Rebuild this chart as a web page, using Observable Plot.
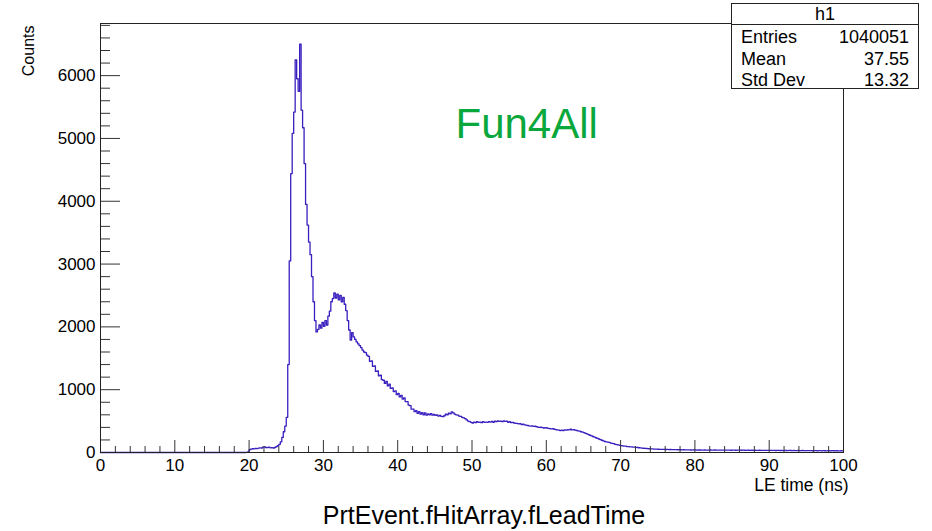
<!DOCTYPE html>
<html><head><meta charset="utf-8">
<script src="https://cdn.jsdelivr.net/npm/d3@7"></script>
<script src="https://cdn.jsdelivr.net/npm/@observablehq/plot@0.6"></script>
<style>
body{margin:0;background:#fff;}
#wrap{position:relative;width:932px;height:531px;font-family:"Liberation Sans",Arial,Helvetica,sans-serif;color:#000;}
#stats{position:absolute;left:731px;top:3px;width:186px;height:84px;border:1px solid #222;background:#fff;}
#stats .hd{position:absolute;left:0;top:0;width:186px;height:20px;border-bottom:1px solid #222;}
#stats div.t{position:absolute;font-size:18px;line-height:18px;white-space:nowrap;}
</style>
</head><body>
<div id="wrap"></div>
<script>
const binWidth = 0.2;
const counts = [
0,0,0,0,0,0,0,0,0,0, 0,0,0,0,0,0,0,0,0,0,
0,0,0,0,0,0,0,0,0,0, 0,0,0,0,0,0,0,0,0,0,
0,0,0,0,0,0,0,0,0,0, 0,0,0,0,0,0,0,0,0,0,
0,0,0,0,0,0,0,0,0,0, 0,0,0,0,0,0,0,0,0,0,
0,0,0,0,0,0,0,0,0,0, 0,0,0,0,0,0,0,0,2,10,
45,55,60,58,65,62,70,75,72,85,
90,80,78,84,75,78,72,80,95,110,
130,170,240,330,420,560,1400,3050,4440,5080,
5420,6250,5950,5750,6500,5450,5170,4600,3950,3620,
3350,3150,2800,2400,2100,1920,1960,2030,1980,2070,
2010,2100,2030,2170,2250,2400,2450,2540,2460,2520,
2430,2500,2400,2470,2360,2260,2100,1950,1790,1910,
1840,1800,1760,1730,1700,1670,1630,1600,1590,1550,
1530,1450,1460,1370,1380,1290,1300,1220,1230,1160,
1150,1100,1130,1060,1090,1020,1030,970,980,920,
940,885,910,850,870,810,810,755,745,690,
690,650,665,625,650,610,635,600,630,595,
615,600,620,595,605,590,600,580,590,575,
570,585,610,600,625,615,645,630,610,600,
595,580,575,560,550,540,520,500,490,480,
470,485,475,490,480,485,475,490,480,485,
480,490,485,495,480,500,490,505,495,500,
490,505,495,500,480,490,475,480,470,465,
465,455,460,445,450,440,435,430,425,420,
425,415,420,410,405,400,405,395,390,395,
390,385,380,375,380,370,365,360,355,350,
355,350,360,355,365,360,370,360,365,355,
350,345,340,330,325,315,305,295,285,275,
265,255,245,235,225,215,205,195,185,175,
170,165,160,150,145,140,130,125,120,115,
110,105,100,100,95,95,90,88,86,84,
82,80,76,74,70,68,66,64,62,60,
58,57,55,54,53,52,51,50,50,49,
48,49,47,48,46,47,45,46,44,45,
44,43,44,42,43,41,42,40,41,40,
41,39,40,40,38,39,40,38,39,38,
40,38,39,40,38,39,37,38,39,37,
38,37,39,38,36,37,38,36,37,38,
37,36,38,36,35,37,36,35,36,34,
36,35,34,36,35,33,35,34,33,35,
34,33,35,33,32,34,33,32,33,31,
33,32,31,33,32,30,32,31,30,32,
31,30,32,30,29,31,30,29,30,28,
30,29,28,30,29,27,29,28,27,29,
28,27,29,28,26,28,27,26,28,27
];
const xMajor = [0,10,20,30,40,50,60,70,80,90,100];
const xMinor = [2,4,6,8,12,14,16,18,22,24,26,28,32,34,36,38,42,44,46,48,52,54,56,58,62,64,66,68,72,74,76,78,82,84,86,88,92,94,96,98];
const yMajor = [0,1000,2000,3000,4000,5000,6000];
const yMinor = [200,400,600,800,1200,1400,1600,1800,2200,2400,2600,2800,3200,3400,3600,3800,4200,4400,4600,4800,5200,5400,5600,5800,6200,6400,6600,6800];
const yLabel = "Counts";
const xLabel = "LE time (ns)";
const title = "PrtEvent.fHitArray.fLeadTime";
const watermark = "Fun4All";
const statsName = "h1";
const statsRows = [["Entries","1040051"],["Mean","37.55"],["Std Dev","13.32"]];

const font = '"Liberation Sans", Arial, Helvetica, sans-serif';
const W = 932, H = 531, mL = 100, mR = 89, mT = 23, mB = 79;
const fw = W - mL - mR, fh = H - mT - mB;

const pts = counts.map((c, i) => ({t: i * binWidth, c}));
pts.push({t: counts.length * binWidth, c: counts[counts.length - 1]});

const chart = Plot.plot({
  width: W, height: H, marginLeft: mL, marginRight: mR, marginTop: mT, marginBottom: mB,
  style: {fontFamily: font, fontSize: "17px", background: "#fff", color: "#000"},
  x: {domain: [0, 100], label: null},
  y: {domain: [0, 6830], label: null},
  marks: [
    Plot.line(pts, {x: "t", y: "c", curve: "step-after", stroke: "#3a1fbf", strokeWidth: 1.3}),
    Plot.ruleX(xMajor, {insetTop: fh - 12, stroke: "#333"}),
    Plot.ruleX(xMinor, {insetTop: fh - 6, stroke: "#333"}),
    Plot.ruleY(yMajor, {insetRight: fw - 20, stroke: "#333"}),
    Plot.ruleY(yMinor, {insetRight: fw - 10, stroke: "#333"}),
    Plot.frame({stroke: "#222"}),
    Plot.axisX(xMajor, {tickSize: 0, tickPadding: 6, fontSize: 17, label: null, tickFormat: d => String(d)}),
    Plot.axisY(yMajor, {tickSize: 0, tickPadding: 5, fontSize: 17, label: null, tickFormat: d => String(d)}),
    Plot.text([yLabel], {text: d => d, frameAnchor: "top-left", dx: -72, dy: 2, rotate: -90, textAnchor: "end", lineAnchor: "middle", fontSize: 16}),
    Plot.text([xLabel], {text: d => d, frameAnchor: "bottom-right", dx: 5, dy: 33, textAnchor: "end", lineAnchor: "middle", fontSize: 17.5}),
    Plot.text([title], {text: d => d, frameAnchor: "bottom", dx: 12, dy: 63, textAnchor: "middle", lineAnchor: "middle", fontSize: 25}),
    Plot.text([watermark], {text: d => d, frameAnchor: "top-left", dx: 355, dy: 101, textAnchor: "start", lineAnchor: "middle", fontSize: 42, fill: "#0aa83c"})
  ]
});

const wrap = document.getElementById("wrap");
wrap.appendChild(chart);

const box = document.createElement("div");
box.id = "stats";
const hd = document.createElement("div");
hd.className = "hd";
box.appendChild(hd);
const h = document.createElement("div");
h.className = "t";
h.style.left = "0px"; h.style.width = "186px"; h.style.textAlign = "center"; h.style.top = "1px";
h.textContent = statsName;
box.appendChild(h);
const rowTops = [24, 46, 67];
statsRows.forEach(([k, v], i) => {
  const a = document.createElement("div");
  a.className = "t"; a.style.left = "9px"; a.style.top = rowTops[i] + "px"; a.textContent = k;
  const b = document.createElement("div");
  b.className = "t"; b.style.right = "9px"; b.style.top = rowTops[i] + "px"; b.textContent = v;
  box.appendChild(a); box.appendChild(b);
});
wrap.appendChild(box);
</script>
</body></html>
